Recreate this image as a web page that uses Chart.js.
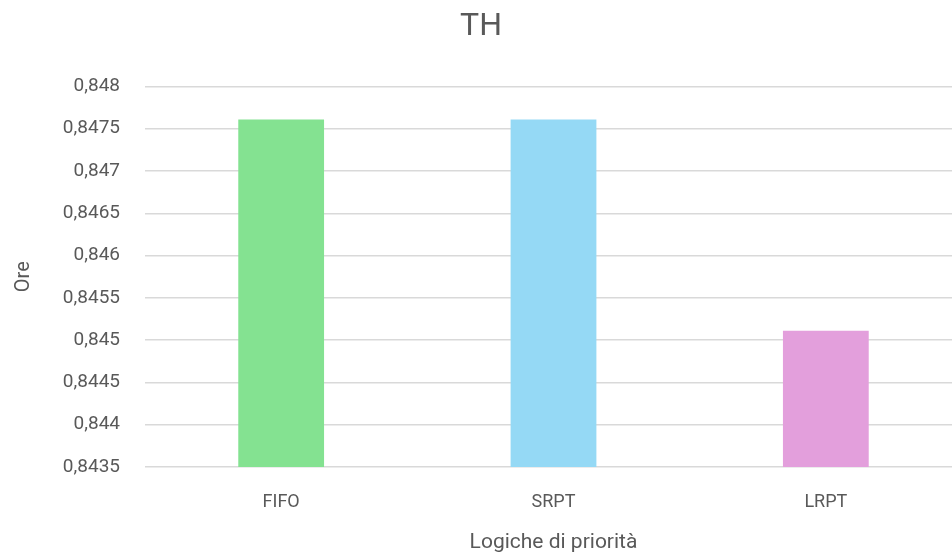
<!DOCTYPE html>
<html>
<head>
<meta charset="utf-8">
<script src="https://cdn.jsdelivr.net/npm/chart.js@4/dist/chart.umd.min.js"></script>
<style>
  html, body { margin: 0; padding: 0; background: #fff; overflow: hidden; }
  #wrap { width: 952px; height: 555px; overflow: hidden; }
</style>
</head>
<body>
<div id="wrap"><canvas id="myChart" width="962" height="555"></canvas></div>
<script>
// data
var categories = ['FIFO', 'SRPT', 'LRPT'];
var thValues = [0.84761, 0.84761, 0.84511];
var barColors = ['#84E291', '#95D9F5', '#E39FDC'];
var yMin = 0.8435, yMax = 0.848, yStep = 0.0005;

var textColor = '#595959';
var fontFam = 'Roboto, "Liberation Sans", sans-serif';

const data = {
  labels: categories,
  datasets: [{
    label: 'TH',
    data: thValues,
    backgroundColor: barColors,
    borderWidth: 0,
    categoryPercentage: 1,
    barPercentage: 0.315
  }]
};

const config = {
  type: 'bar',
  data,
  options: {
    responsive: false,
    animation: false,
    layout: { padding: { top: 8, right: 0, left: 0, bottom: 0 } },
    plugins: {
      legend: { display: false },
      tooltip: { enabled: false },
      title: {
        display: true,
        text: 'TH',
        color: textColor,
        font: { family: fontFam, size: 32, weight: 'normal' },
        padding: { top: 0, bottom: 40 }
      }
    },
    scales: {
      x: {
        grid: { display: false },
        border: { display: false },
        ticks: {
          color: textColor,
          font: { family: fontFam, size: 18 },
          padding: 17
        },
        title: {
          display: true,
          text: 'Logiche di priorità',
          color: textColor,
          font: { family: fontFam, size: 21 },
          padding: { top: 4, bottom: 0 }
        },
        afterFit: function(scale) { scale.height = 88; }
      },
      y: {
        min: yMin,
        max: yMax,
        grid: { color: '#d9d9d9', lineWidth: 1.5, drawTicks: false },
        border: { display: false },
        ticks: {
          stepSize: yStep,
          color: textColor,
          font: { family: fontFam, size: 19 },
          padding: 25,
          callback: function(v) {
            return (Math.round(v * 10000) / 10000).toString().replace('.', ',');
          }
        },
        title: {
          display: true,
          text: 'Ore',
          color: textColor,
          font: { family: fontFam, size: 20 },
          padding: { top: 12, bottom: 0 }
        },
        afterFit: function(scale) { scale.width = 145; }
      }
    }
  }
};

const myChart = new Chart(document.getElementById('myChart'), config);
</script>
</body>
</html>
